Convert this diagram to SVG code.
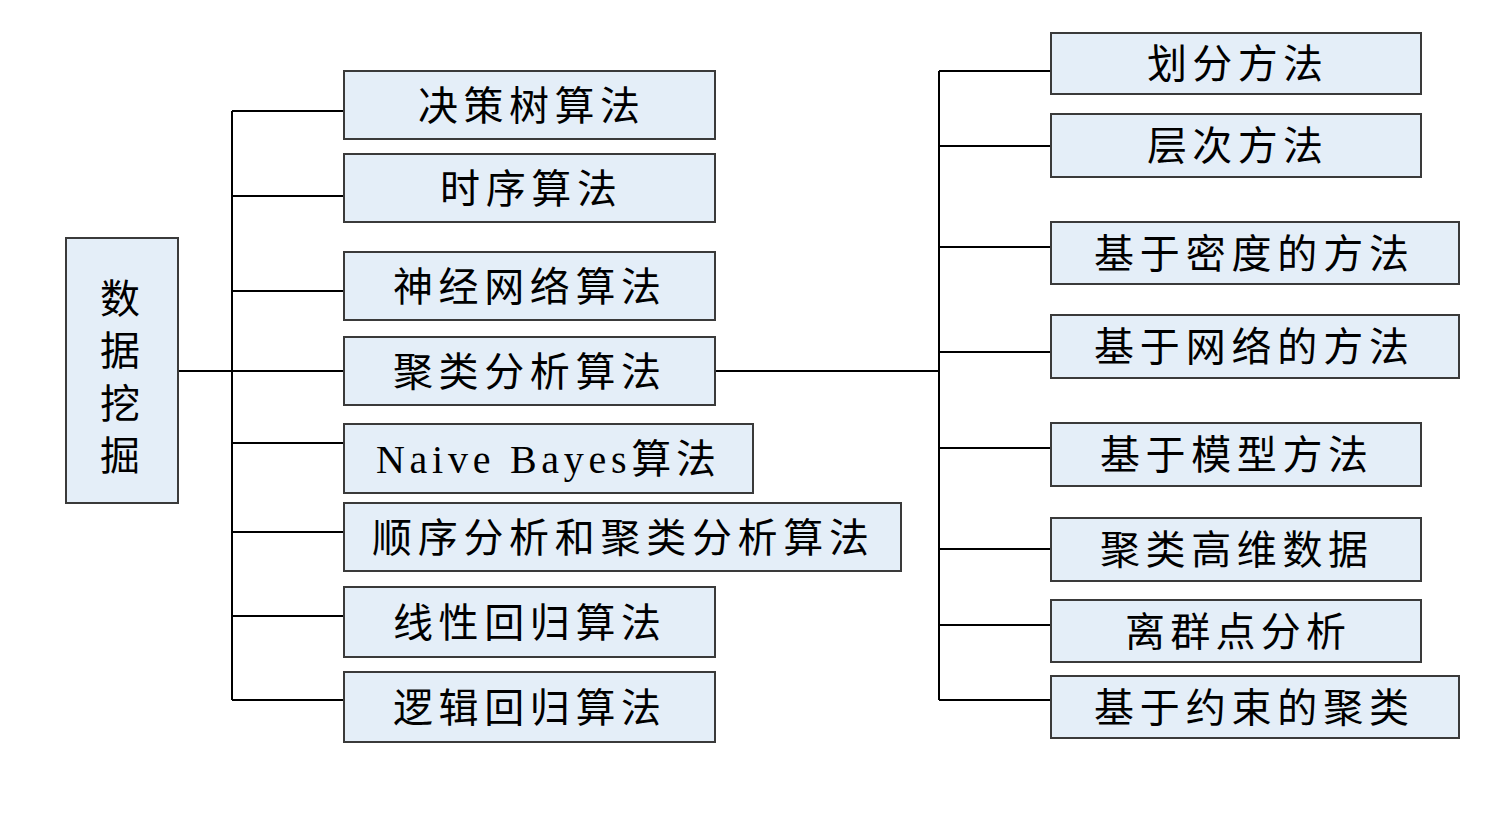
<svg xmlns="http://www.w3.org/2000/svg" width="1496" height="818" viewBox="0 0 1496 818">
<style>
.box{fill:#e4eef8;stroke:#3a3a3a;stroke-width:2}
.t{font-family:"Liberation Serif","Noto Sans CJK SC",serif;font-size:40px;fill:#000;text-anchor:start}
.c{fill:none;stroke:#000;stroke-width:2}
</style>
<rect width="1496" height="818" fill="#fff"/>
<g id="connectors">
<path class="c" d="M178 371H344M232 111V700M232 111H344M232 196H344M232 291H344M232 443H344M232 532H344M232 616H344M232 700H344"/>
<path class="c" d="M715 371H939M939 71V700M939 71H1051M939 146H1051M939 247H1051M939 352H1051M939 448H1051M939 549H1051M939 625H1051M939 700H1051"/>
</g>
<g id="root">
<rect class="box" x="66" y="238" width="112" height="265"/>
<text class="t" x="100" y="313">数</text>
<text class="t" x="100" y="365">据</text>
<text class="t" x="100" y="418">挖</text>
<text class="t" x="100" y="470">掘</text>
</g>
<g id="n1"><rect class="box" x="344" y="71" width="371" height="68"/><text class="t" x="418" y="120" textLength="222" lengthAdjust="spacing">决策树算法</text></g>
<g id="n2"><rect class="box" x="344" y="154" width="371" height="68"/><text class="t" x="440" y="203" textLength="177" lengthAdjust="spacing">时序算法</text></g>
<g id="n3"><rect class="box" x="344" y="252" width="371" height="68"/><text class="t" x="393" y="301" textLength="268" lengthAdjust="spacing">神经网络算法</text></g>
<g id="n4"><rect class="box" x="344" y="337" width="371" height="68"/><text class="t" x="393" y="386" textLength="268" lengthAdjust="spacing">聚类分析算法</text></g>
<g id="n5"><rect class="box" x="344" y="424" width="409" height="69"/><text class="t" x="376" y="473" textLength="340" lengthAdjust="spacing">Naive Bayes算法</text></g>
<g id="n6"><rect class="box" x="344" y="503" width="557" height="68"/><text class="t" x="372" y="552" textLength="497" lengthAdjust="spacing">顺序分析和聚类分析算法</text></g>
<g id="n7"><rect class="box" x="344" y="587" width="371" height="70"/><text class="t" x="393" y="637" textLength="268" lengthAdjust="spacing">线性回归算法</text></g>
<g id="n8"><rect class="box" x="344" y="672" width="371" height="70"/><text class="t" x="393" y="722" textLength="268" lengthAdjust="spacing">逻辑回归算法</text></g>
<g id="m1"><rect class="box" x="1051" y="33" width="370" height="61"/><text class="t" x="1147" y="78" textLength="176" lengthAdjust="spacing">划分方法</text></g>
<g id="m2"><rect class="box" x="1051" y="114" width="370" height="63"/><text class="t" x="1147" y="160" textLength="176" lengthAdjust="spacing">层次方法</text></g>
<g id="m3"><rect class="box" x="1051" y="222" width="408" height="62"/><text class="t" x="1094" y="268" textLength="315" lengthAdjust="spacing">基于密度的方法</text></g>
<g id="m4"><rect class="box" x="1051" y="315" width="408" height="63"/><text class="t" x="1094" y="361" textLength="315" lengthAdjust="spacing">基于网络的方法</text></g>
<g id="m5"><rect class="box" x="1051" y="423" width="370" height="63"/><text class="t" x="1100" y="469" textLength="268" lengthAdjust="spacing">基于模型方法</text></g>
<g id="m6"><rect class="box" x="1051" y="518" width="370" height="63"/><text class="t" x="1100" y="564" textLength="268" lengthAdjust="spacing">聚类高维数据</text></g>
<g id="m7"><rect class="box" x="1051" y="600" width="370" height="62"/><text class="t" x="1125" y="646" textLength="221" lengthAdjust="spacing">离群点分析</text></g>
<g id="m8"><rect class="box" x="1051" y="676" width="408" height="62"/><text class="t" x="1094" y="722" textLength="315" lengthAdjust="spacing">基于约束的聚类</text></g>
</svg>
